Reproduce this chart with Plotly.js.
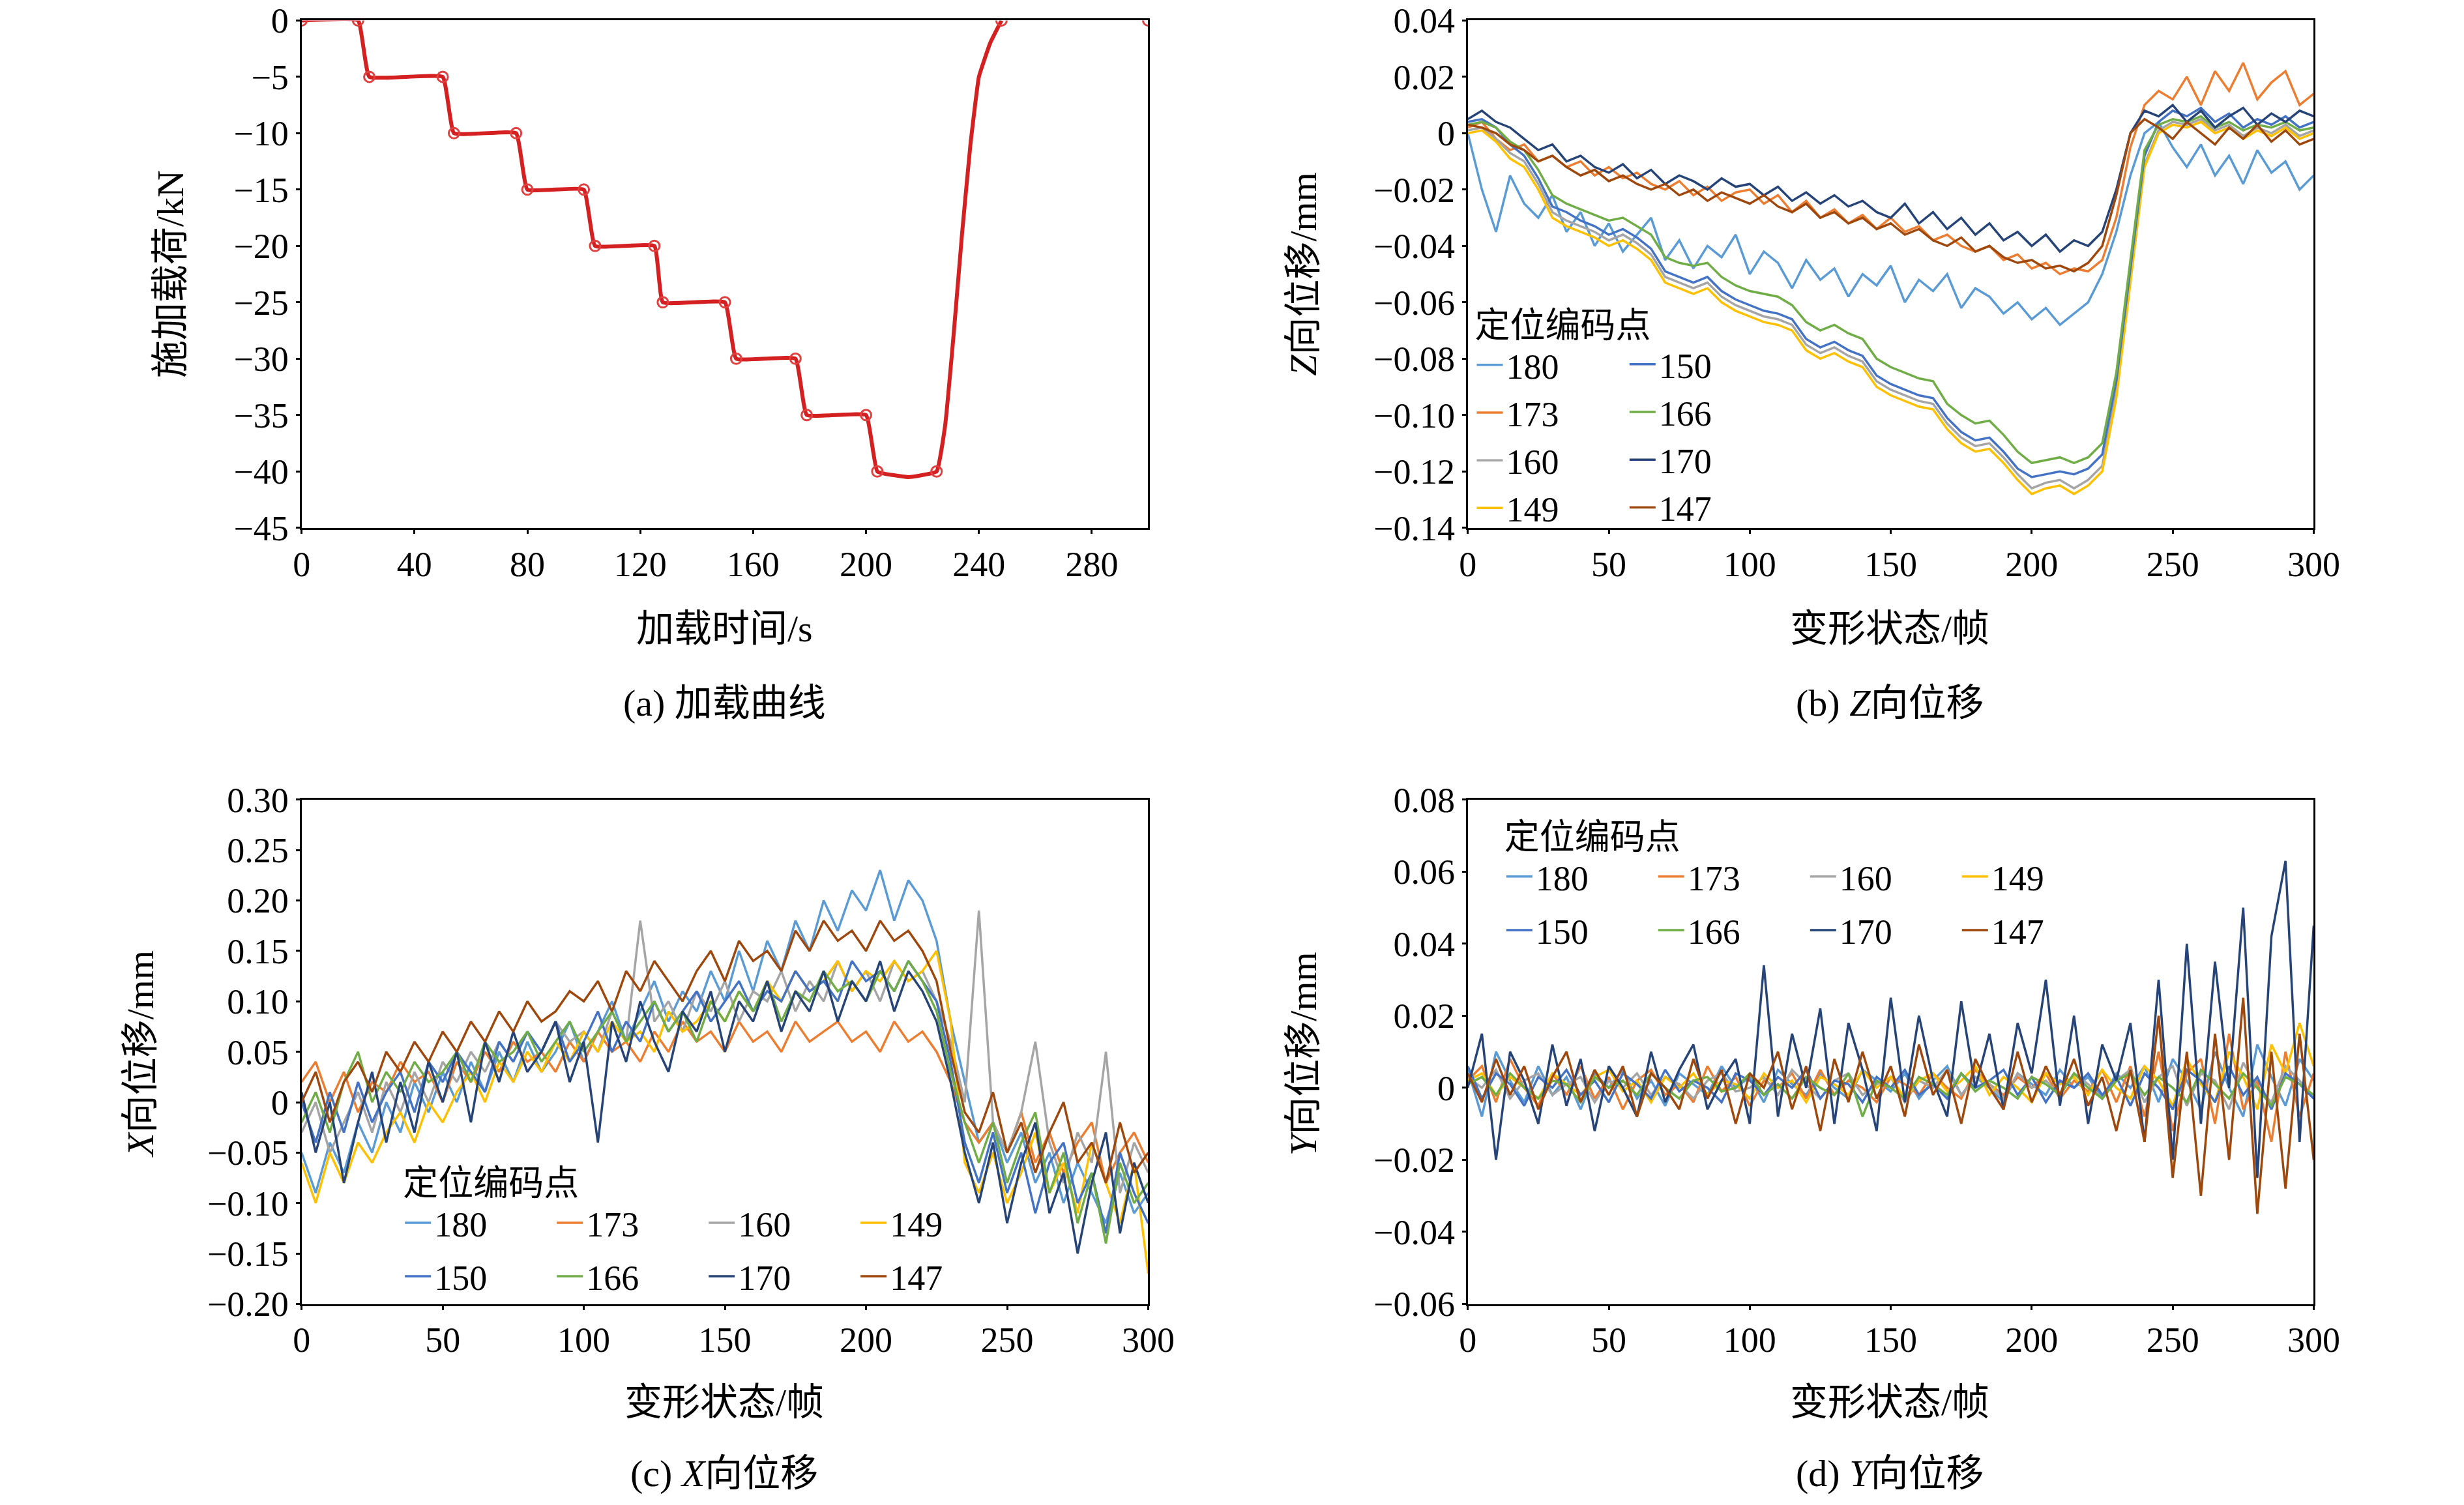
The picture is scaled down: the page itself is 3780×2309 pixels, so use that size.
<!DOCTYPE html>
<html>
<head>
<meta charset="utf-8">
<script src="https://cdn.plot.ly/plotly-3.0.1.min.js"></script>
<style>html,body{margin:0;padding:0;background:#fff}</style>
</head>
<body>
<div id="chart" style="width:3780px;height:2309px"></div>
<script>
// (a) loading curve
const loadT = [0,20,24,50,54,76,80,100,104,125,128,150,154,175,179,200,204,215,225,228,231,234,237,240,244,248];
const loadF = [0,0,-5,-5,-10,-10,-15,-15,-20,-20,-25,-25,-30,-30,-35,-35,-40,-40.5,-40,-36,-28,-19,-11,-5,-2,0];
const markT = [0,20,24,50,54,76,80,100,104,125,128,150,154,175,179,200,204,225,248,300];
const markF = [0,0,-5,-5,-10,-10,-15,-15,-20,-20,-25,-25,-30,-30,-35,-35,-40,-40,0,0];

const frames = [0,5,10,15,20,25,30,35,40,45,50,55,60,65,70,75,80,85,90,95,100,105,110,115,120,125,130,135,140,145,150,155,160,165,170,175,180,185,190,195,200,205,210,215,220,225,230,235,240,245,250,255,260,265,270,275,280,285,290,295,300];

const pointNames = ['180','173','160','149','150','166','170','147'];
const pointColors = ['#5B9BD5','#ED7D31','#A5A5A5','#FFC000','#4472C4','#70AD47','#264478','#9E480E'];

// (b) Z displacement
const z180 = [0.000,-0.020,-0.035,-0.015,-0.025,-0.030,-0.022,-0.035,-0.028,-0.040,-0.032,-0.042,-0.036,-0.030,-0.045,-0.038,-0.048,-0.040,-0.044,-0.036,-0.050,-0.042,-0.046,-0.055,-0.045,-0.052,-0.048,-0.058,-0.050,-0.054,-0.047,-0.060,-0.052,-0.056,-0.050,-0.062,-0.055,-0.058,-0.064,-0.060,-0.066,-0.062,-0.068,-0.064,-0.060,-0.050,-0.035,-0.015,0.000,0.004,-0.005,-0.012,-0.004,-0.015,-0.008,-0.018,-0.006,-0.014,-0.010,-0.020,-0.015];
const z173 = [0.002,0.004,-0.002,-0.006,-0.004,-0.010,-0.008,-0.012,-0.010,-0.015,-0.012,-0.016,-0.014,-0.018,-0.020,-0.017,-0.022,-0.019,-0.024,-0.021,-0.020,-0.025,-0.022,-0.028,-0.024,-0.030,-0.027,-0.032,-0.029,-0.034,-0.030,-0.035,-0.033,-0.038,-0.036,-0.040,-0.042,-0.040,-0.045,-0.043,-0.048,-0.046,-0.050,-0.048,-0.049,-0.045,-0.030,-0.005,0.010,0.015,0.012,0.020,0.010,0.022,0.015,0.025,0.012,0.018,0.022,0.010,0.014];
const z160 = [0.001,0.002,-0.002,-0.007,-0.010,-0.018,-0.028,-0.031,-0.033,-0.035,-0.038,-0.036,-0.039,-0.043,-0.051,-0.053,-0.055,-0.053,-0.058,-0.061,-0.063,-0.065,-0.066,-0.068,-0.075,-0.078,-0.076,-0.079,-0.081,-0.088,-0.091,-0.093,-0.095,-0.096,-0.103,-0.108,-0.111,-0.110,-0.115,-0.121,-0.126,-0.124,-0.123,-0.126,-0.123,-0.118,-0.092,-0.051,-0.011,0.001,0.004,0.003,0.005,0.001,0.003,-0.001,0.002,0.000,0.003,-0.001,0.001];
const z149 = [0.000,0.001,-0.003,-0.009,-0.012,-0.020,-0.030,-0.033,-0.035,-0.037,-0.040,-0.038,-0.041,-0.045,-0.053,-0.055,-0.057,-0.055,-0.060,-0.063,-0.065,-0.067,-0.068,-0.070,-0.077,-0.080,-0.078,-0.081,-0.083,-0.090,-0.093,-0.095,-0.097,-0.098,-0.105,-0.110,-0.113,-0.112,-0.117,-0.123,-0.128,-0.126,-0.125,-0.128,-0.125,-0.120,-0.094,-0.053,-0.012,0.000,0.003,0.002,0.004,0.000,0.002,-0.002,0.001,-0.001,0.002,-0.002,0.000];
const z150 = [0.004,0.005,0.002,-0.004,-0.008,-0.016,-0.026,-0.028,-0.031,-0.033,-0.036,-0.034,-0.037,-0.041,-0.049,-0.051,-0.053,-0.051,-0.056,-0.059,-0.061,-0.063,-0.064,-0.066,-0.073,-0.076,-0.074,-0.077,-0.079,-0.086,-0.089,-0.091,-0.093,-0.094,-0.101,-0.106,-0.109,-0.108,-0.113,-0.119,-0.122,-0.121,-0.120,-0.121,-0.119,-0.114,-0.088,-0.048,-0.008,0.004,0.008,0.006,0.009,0.004,0.007,0.002,0.005,0.003,0.006,0.002,0.004];
const z166 = [0.003,0.004,0.002,-0.003,-0.006,-0.013,-0.022,-0.025,-0.027,-0.029,-0.031,-0.030,-0.033,-0.036,-0.044,-0.046,-0.047,-0.046,-0.051,-0.054,-0.056,-0.057,-0.058,-0.061,-0.067,-0.070,-0.068,-0.071,-0.073,-0.080,-0.083,-0.085,-0.087,-0.088,-0.096,-0.100,-0.103,-0.102,-0.107,-0.113,-0.117,-0.116,-0.115,-0.117,-0.115,-0.110,-0.085,-0.045,-0.006,0.003,0.005,0.004,0.006,0.002,0.004,0.001,0.003,0.002,0.004,0.001,0.002];
const z170 = [0.005,0.008,0.004,0.002,-0.002,-0.006,-0.004,-0.010,-0.008,-0.012,-0.014,-0.011,-0.016,-0.013,-0.018,-0.015,-0.017,-0.020,-0.016,-0.019,-0.018,-0.022,-0.019,-0.024,-0.021,-0.025,-0.022,-0.026,-0.024,-0.028,-0.030,-0.025,-0.032,-0.028,-0.034,-0.030,-0.036,-0.032,-0.038,-0.035,-0.040,-0.036,-0.042,-0.038,-0.040,-0.035,-0.020,0.000,0.008,0.006,0.010,0.004,0.008,0.002,0.006,0.009,0.003,0.007,0.004,0.008,0.006];
const z147 = [0.003,0.002,0.000,-0.004,-0.006,-0.010,-0.008,-0.012,-0.015,-0.013,-0.017,-0.015,-0.018,-0.020,-0.018,-0.022,-0.020,-0.024,-0.021,-0.023,-0.025,-0.022,-0.026,-0.028,-0.025,-0.030,-0.028,-0.032,-0.030,-0.034,-0.032,-0.036,-0.034,-0.038,-0.040,-0.037,-0.042,-0.040,-0.044,-0.046,-0.045,-0.048,-0.047,-0.049,-0.046,-0.040,-0.022,0.000,0.005,0.002,-0.002,0.004,0.000,-0.004,0.002,-0.002,0.003,-0.003,0.001,-0.004,-0.002];

// (c) X displacement
const x180 = [-0.05,-0.09,-0.04,-0.07,-0.02,-0.05,0.00,-0.03,0.02,-0.01,0.03,0.00,0.04,0.01,0.05,0.02,0.06,0.03,0.05,0.08,0.04,0.07,0.10,0.06,0.09,0.12,0.08,0.11,0.09,0.13,0.10,0.15,0.11,0.16,0.13,0.18,0.15,0.20,0.17,0.21,0.19,0.23,0.18,0.22,0.20,0.16,0.08,0.02,-0.04,-0.02,-0.06,-0.03,-0.08,-0.05,-0.10,-0.06,-0.09,-0.12,-0.07,-0.11,-0.09];
const x173 = [0.02,0.04,0.00,0.03,-0.01,0.02,0.01,0.04,0.02,0.03,0.00,0.04,0.02,0.05,0.03,0.06,0.04,0.05,0.03,0.06,0.04,0.07,0.05,0.06,0.04,0.07,0.05,0.08,0.06,0.07,0.05,0.08,0.06,0.07,0.05,0.08,0.06,0.07,0.08,0.06,0.07,0.05,0.08,0.06,0.07,0.05,0.02,-0.02,-0.04,-0.02,-0.05,-0.01,-0.06,-0.03,-0.07,-0.04,-0.02,-0.08,-0.05,-0.03,-0.06];
const x160 = [-0.03,0.00,-0.05,-0.02,0.01,-0.03,0.02,-0.01,0.03,0.00,0.04,0.02,0.05,0.03,0.06,0.04,0.07,0.05,0.08,0.06,0.07,0.05,0.09,0.06,0.18,0.08,0.10,0.07,0.11,0.09,0.12,0.08,0.11,0.10,0.13,0.09,0.12,0.10,0.14,0.11,0.13,0.10,0.14,0.12,0.13,0.10,0.06,0.00,0.19,-0.02,-0.05,-0.01,0.06,-0.04,-0.08,-0.03,-0.06,0.05,-0.09,-0.04,-0.07];
const x149 = [-0.06,-0.10,-0.05,-0.08,-0.04,-0.06,-0.03,-0.01,-0.04,0.00,-0.02,0.01,0.03,0.00,0.04,0.02,0.05,0.03,0.06,0.04,0.07,0.05,0.08,0.06,0.07,0.05,0.09,0.07,0.08,0.10,0.08,0.11,0.09,0.12,0.10,0.13,0.11,0.12,0.14,0.11,0.13,0.12,0.14,0.12,0.13,0.15,0.08,-0.06,-0.09,-0.05,-0.10,-0.07,-0.03,-0.09,-0.06,-0.11,-0.04,-0.08,-0.12,-0.06,-0.17];
const x150 = [0.00,-0.04,0.01,-0.03,0.02,-0.02,0.01,0.03,-0.01,0.04,0.02,0.05,0.03,0.01,0.06,0.04,0.07,0.05,0.08,0.04,0.06,0.09,0.05,0.08,0.06,0.10,0.07,0.09,0.11,0.08,0.10,0.12,0.09,0.11,0.10,0.13,0.11,0.12,0.10,0.14,0.12,0.13,0.11,0.14,0.12,0.10,0.04,-0.04,-0.08,-0.03,-0.09,-0.05,-0.11,-0.06,-0.04,-0.10,-0.07,-0.13,-0.05,-0.09,-0.12];
const x166 = [-0.02,0.01,-0.03,0.02,0.05,0.00,0.03,0.01,0.04,0.02,0.03,0.05,0.02,0.06,0.04,0.05,0.07,0.04,0.06,0.08,0.05,0.07,0.09,0.06,0.08,0.10,0.07,0.09,0.06,0.10,0.08,0.11,0.09,0.12,0.08,0.11,0.10,0.13,0.11,0.12,0.10,0.13,0.11,0.14,0.12,0.09,0.03,-0.02,-0.06,-0.02,-0.08,-0.04,-0.01,-0.09,-0.05,-0.12,-0.07,-0.14,-0.06,-0.10,-0.08];
const x170 = [0.01,-0.05,0.00,-0.08,-0.02,0.03,-0.04,0.02,-0.03,0.04,0.00,0.05,-0.02,0.06,0.02,0.07,0.03,0.05,0.08,0.02,0.06,-0.04,0.08,0.04,0.10,0.06,0.03,0.09,0.07,0.11,0.05,0.10,0.08,0.12,0.07,0.11,0.09,0.13,0.08,0.12,0.10,0.14,0.09,0.13,0.11,0.08,0.02,-0.05,-0.10,-0.04,-0.12,-0.06,-0.02,-0.11,-0.07,-0.15,-0.08,-0.03,-0.13,-0.06,-0.10];
const x147 = [0.00,0.03,-0.02,0.02,0.04,0.01,0.05,0.03,0.06,0.04,0.07,0.05,0.08,0.06,0.09,0.07,0.10,0.08,0.09,0.11,0.10,0.12,0.09,0.13,0.11,0.14,0.12,0.10,0.13,0.15,0.12,0.16,0.14,0.15,0.13,0.17,0.15,0.18,0.16,0.17,0.15,0.18,0.16,0.17,0.15,0.12,0.05,-0.01,-0.03,0.01,-0.05,-0.02,-0.07,-0.03,0.00,-0.06,-0.04,-0.08,-0.02,-0.07,-0.05];

// (d) Y displacement
const y180 = [0.005,-0.008,0.010,0.002,-0.004,0.006,-0.002,0.003,-0.006,0.004,0.000,0.005,-0.003,0.002,-0.005,0.004,0.001,-0.002,0.006,0.000,0.003,-0.004,0.005,0.001,-0.002,0.004,0.000,-0.003,0.005,0.002,-0.001,0.004,-0.003,0.002,0.006,-0.002,0.003,0.000,-0.004,0.004,0.001,-0.002,0.005,0.000,0.003,-0.003,0.004,0.000,0.006,-0.004,0.008,0.002,-0.006,0.010,0.000,-0.008,0.012,0.003,-0.005,0.008,0.002];
const y173 = [0.002,0.006,-0.004,0.008,0.000,-0.005,0.004,-0.002,0.006,-0.003,0.003,-0.006,0.002,0.005,-0.002,0.001,-0.004,0.006,-0.001,0.003,-0.005,0.002,0.000,0.004,-0.003,0.005,-0.002,0.002,0.000,-0.004,0.003,0.001,-0.002,0.004,0.000,-0.003,0.005,0.001,-0.002,0.003,0.000,0.004,-0.003,0.002,-0.001,0.005,-0.004,0.006,-0.008,0.010,-0.012,0.004,0.008,-0.010,0.015,-0.006,0.002,-0.015,0.010,-0.008,0.004];
const y160 = [0.003,0.000,0.005,-0.003,0.002,0.004,-0.002,0.001,0.003,-0.004,0.002,0.000,0.004,-0.002,0.003,0.001,-0.003,0.002,0.004,-0.001,0.000,0.003,-0.002,0.005,0.001,-0.003,0.002,0.004,-0.002,0.001,0.003,-0.004,0.002,0.000,0.005,-0.002,0.003,0.001,-0.003,0.004,0.000,0.002,-0.002,0.004,0.001,-0.003,0.002,0.005,-0.004,0.003,0.006,-0.005,0.004,0.002,-0.006,0.007,0.000,-0.004,0.006,0.002,-0.003];
const y149 = [0.002,0.004,-0.002,0.003,0.000,-0.003,0.004,0.001,-0.002,0.003,0.005,-0.001,0.002,-0.004,0.003,0.000,0.004,-0.002,0.002,0.001,-0.003,0.004,0.000,0.002,-0.004,0.003,0.001,-0.002,0.005,0.000,0.003,-0.003,0.002,0.004,-0.001,0.002,0.006,-0.002,0.003,0.000,-0.004,0.004,0.001,0.003,-0.002,0.005,0.000,-0.003,0.006,0.002,-0.005,0.008,0.001,-0.004,0.010,0.003,-0.006,0.012,0.004,0.018,0.006];
const y150 = [0.006,-0.003,0.004,0.001,-0.005,0.003,0.000,0.005,-0.002,0.002,-0.004,0.004,0.001,-0.003,0.005,-0.001,0.002,0.000,-0.004,0.004,0.002,-0.002,0.003,0.000,0.005,-0.003,0.002,0.001,-0.004,0.003,0.000,0.005,-0.002,0.001,-0.003,0.004,0.000,0.002,0.005,-0.002,0.003,-0.004,0.002,0.000,0.004,-0.002,0.003,-0.005,0.004,0.000,-0.006,0.005,0.002,-0.004,0.006,-0.002,0.003,-0.006,0.004,0.001,-0.003];
const y166 = [0.001,0.003,-0.002,0.004,0.000,-0.003,0.002,0.001,-0.004,0.003,0.000,0.002,-0.002,0.004,0.000,-0.003,0.002,0.003,-0.001,0.000,0.004,-0.002,0.001,-0.003,0.003,0.000,-0.002,0.004,-0.008,0.002,0.000,-0.003,0.003,0.001,-0.002,0.004,-0.001,0.002,0.000,-0.003,0.003,0.001,-0.002,0.004,0.000,-0.003,0.002,0.004,-0.002,0.003,0.000,-0.004,0.005,0.001,-0.003,0.004,0.000,-0.005,0.003,0.001,-0.002];
const y170 = [0.000,0.015,-0.020,0.010,0.002,-0.010,0.012,-0.005,0.008,-0.012,0.006,0.000,-0.008,0.010,-0.004,0.005,0.012,-0.006,0.002,0.008,-0.010,0.034,-0.008,0.015,0.000,0.022,-0.010,0.018,0.005,-0.012,0.025,-0.004,0.020,0.002,-0.008,0.024,0.000,0.015,-0.006,0.018,0.004,0.030,-0.005,0.020,-0.010,0.012,0.002,0.018,-0.015,0.030,-0.020,0.040,-0.010,0.035,0.000,0.050,-0.025,0.042,0.063,-0.015,0.045];
const y147 = [0.004,-0.004,0.008,-0.002,0.006,-0.006,0.003,0.010,-0.004,0.005,-0.002,0.006,-0.008,0.004,0.000,-0.006,0.008,-0.003,0.005,-0.010,0.004,0.000,0.010,-0.006,0.006,-0.012,0.008,-0.004,0.010,-0.003,0.006,-0.008,0.012,-0.002,0.005,-0.010,0.008,0.000,-0.006,0.010,-0.004,0.006,-0.002,0.008,-0.005,0.003,-0.012,0.005,-0.015,0.020,-0.025,0.010,-0.030,0.015,-0.020,0.025,-0.035,0.010,-0.028,0.015,-0.020];

const zSeries = [z180,z173,z160,z149,z150,z166,z170,z147];
const xSeries = [x180,x173,x160,x149,x150,x166,x170,x147];
const ySeries = [y180,y173,y160,y149,y150,y166,y170,y147];

const FONT = 'Liberation Serif, Times New Roman, Noto Sans CJK SC, serif';
const FS = 54;

const data = [];
data.push({x: loadT, y: loadF, xaxis: 'x', yaxis: 'y', mode: 'lines', line: {color: '#D42020', width: 6, shape: 'spline', smoothing: 0.3},
  showlegend: false});
data.push({x: markT, y: markF, xaxis: 'x', yaxis: 'y', mode: 'markers',
  marker: {symbol: 'circle-open', size: 16, color: '#E04040', line: {width: 3}}, showlegend: false});

// b uses legend/legend2 (two columns), c uses legend3/legend4 (two rows), d uses legend5/legend6
function addPanel(series, xa, ya, legA, legB) {
  series.forEach((vals, i) => {
    data.push({x: frames, y: vals, xaxis: xa, yaxis: ya, mode: 'lines', name: pointNames[i],
      line: {color: pointColors[i], width: 3.5}, legend: i < 4 ? legA : legB});
  });
}
addPanel(zSeries, 'x2', 'y2', 'legend', 'legend2');
addPanel(xSeries, 'x3', 'y3', 'legend3', 'legend4');
addPanel(ySeries, 'x4', 'y4', 'legend5', 'legend6');

function ax(domain, range, dtick, anchor) {
  return {domain: domain, range: range, dtick: dtick, anchor: anchor, showgrid: false, zeroline: false,
    showline: true, mirror: true, linecolor: '#000', linewidth: 3, ticks: 'outside', ticklen: 6, tickwidth: 3,
    tickcolor: '#000', tickfont: {family: FONT, size: FS, color: '#000'}};
}

const xa = [0.1224, 0.466], xb = [0.5957, 0.939];
const yTop = [0.6493, 0.9864], yBot = [0.1336, 0.4687];

function leg(x, y, orient, title) {
  const l = {x: x, y: y, xanchor: 'left', yanchor: 'top', orientation: orient, bgcolor: 'rgba(0,0,0,0)',
    font: {family: FONT, size: FS, color: '#000'}, tracegroupgap: 0, itemwidth: 40};
  if (orient === 'h') l.entrywidth = 178;
  if (title) l.title = {text: title, side: 'top', font: {family: FONT, size: FS, color: '#000'}};
  return l;
}

function note(text, x, y, rot) {
  return {text: text, x: x, y: y, xref: 'paper', yref: 'paper', showarrow: false, textangle: rot || 0,
    font: {family: FONT, size: FS + 4, color: '#000'}, xanchor: 'center', yanchor: 'middle'};
}

const layout = {
  width: 3780, height: 2309, margin: {l: 0, r: 0, t: 0, b: 0},
  paper_bgcolor: '#fff', plot_bgcolor: '#fff', font: {family: FONT, color: '#000'},
  xaxis: ax(xa, [0, 300], 40, 'y'),
  yaxis: ax(yTop, [-45, 0], 5, 'x'),
  xaxis2: ax(xb, [0, 300], 50, 'y2'),
  yaxis2: ax(yTop, [-0.14, 0.04], 0.02, 'x2'),
  xaxis3: ax(xa, [0, 300], 50, 'y3'),
  yaxis3: ax(yBot, [-0.2, 0.3], 0.05, 'x3'),
  xaxis4: ax(xb, [0, 300], 50, 'y4'),
  yaxis4: ax(yBot, [-0.06, 0.08], 0.02, 'x4'),
  legend: leg(0.598, 0.806, 'v', '定位编码点'),
  legend2: leg(0.660, 0.776, 'v'),
  legend3: leg(0.163, 0.236, 'h', '定位编码点'),
  legend4: leg(0.163, 0.170, 'h'),
  legend5: leg(0.610, 0.466, 'h', '定位编码点'),
  legend6: leg(0.610, 0.400, 'h'),
  annotations: [
    note('施加载荷/kN', 0.069, 0.818, -90),
    note('<i>Z</i>向位移/mm', 0.529, 0.818, -90),
    note('<i>X</i>向位移/mm', 0.057, 0.30, -90),
    note('<i>Y</i>向位移/mm', 0.529, 0.30, -90),
    note('加载时间/s', 0.294, 0.5825),
    note('变形状态/帧', 0.767, 0.5825),
    note('变形状态/帧', 0.294, 0.068),
    note('变形状态/帧', 0.767, 0.068),
    note('(a) 加载曲线', 0.294, 0.533),
    note('(b) <i>Z</i>向位移', 0.767, 0.533),
    note('(c) <i>X</i>向位移', 0.294, 0.021),
    note('(d) <i>Y</i>向位移', 0.767, 0.021)
  ]
};

// tick labels: minus sign, two decimals, plain "0"
['yaxis2','yaxis3','yaxis4'].forEach(k => {
  const a = layout[k];
  const vals = [], txt = [];
  for (let v = a.range[0]; v <= a.range[1] + 1e-9; v += a.dtick) {
    const r = Math.round(v * 100) / 100;
    vals.push(r);
    txt.push(Math.abs(r) < 1e-9 ? '0' : (r < 0 ? '\u2212' + Math.abs(r).toFixed(2) : r.toFixed(2)));
  }
  a.tickmode = 'array'; a.tickvals = vals; a.ticktext = txt;
});
{
  const vals = [], txt = [];
  for (let v = -45; v <= 0; v += 5) { vals.push(v); txt.push(v < 0 ? '\u2212' + Math.abs(v) : '0'); }
  layout.yaxis.tickmode = 'array'; layout.yaxis.tickvals = vals; layout.yaxis.ticktext = txt;
}

Plotly.newPlot('chart', data, layout, {displayModeBar: false, staticPlot: true});
</script>
</body>
</html>
